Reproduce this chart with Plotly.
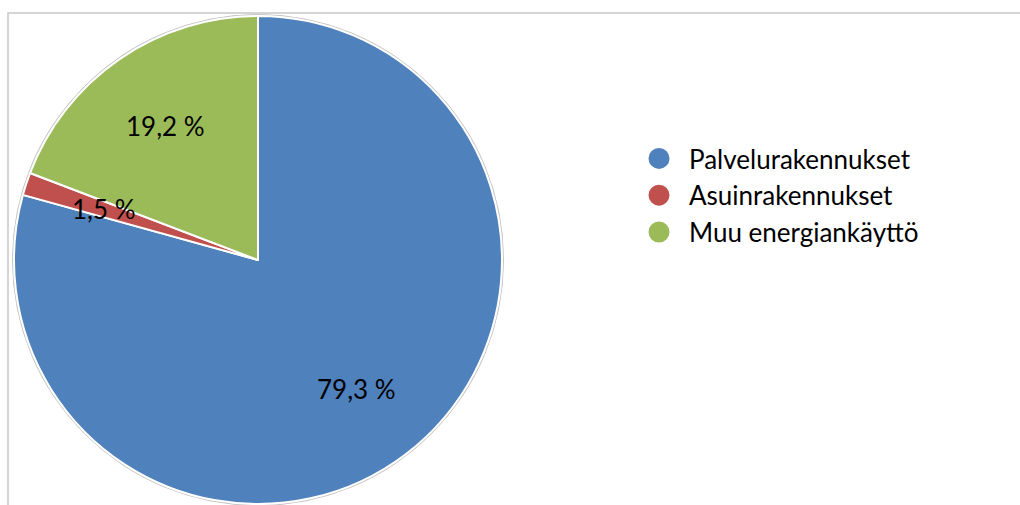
import math
import plotly.graph_objects as go

categories = ["Palvelurakennukset", "Asuinrakennukset", "Muu energiankäyttö"]
values = [79.3, 1.5, 19.2]
labels_text = ["79,3 %", "1,5 %", "19,2 %"]
colors = ["#4F81BD", "#C0504D", "#9BBB59"]

W, H = 1020, 505
R_PX = 244
CX_PX, CY_PX = 258, 260  # from top-left

dom_x = [(CX_PX - R_PX) / W, (CX_PX + R_PX) / W]
dom_y = [(H - CY_PX - R_PX) / H, (H - CY_PX + R_PX) / H]

fig = go.Figure()
fig.add_trace(go.Pie(
    labels=categories,
    values=values,
    sort=False,
    direction="clockwise",
    rotation=0,
    marker=dict(colors=colors, line=dict(color="white", width=2)),
    textinfo="none",
    hoverinfo="label+percent",
    showlegend=False,
    domain=dict(x=dom_x, y=dom_y),
))

# legend entries as circles
for name, col in zip(categories, colors):
    fig.add_trace(go.Scatter(
        x=[None], y=[None], mode="markers", name=name,
        marker=dict(symbol="circle", size=16, color=col,
                    line=dict(color=col, width=5)),
        legendgroup=name,
    ))

# data labels positioned along each slice's mid angle
total = sum(values)
cx = (dom_x[0] + dom_x[1]) / 2
cy = (dom_y[0] + dom_y[1]) / 2
frac = 0.665
cum = 0.0
annotations = []
for v, t in zip(values, labels_text):
    mid = (cum + v / 2) / total * 2 * math.pi
    cum += v
    ax = cx + R_PX * frac * math.sin(mid) / W
    ay = cy + R_PX * frac * math.cos(mid) / H
    annotations.append(dict(
        x=ax, y=ay, xref="paper", yref="paper", text=t, showarrow=False,
        font=dict(family="Lato", size=26, color="black"),
        xanchor="center", yanchor="middle",
    ))

shapes = [
    # chart frame
    dict(type="rect", xref="paper", yref="paper",
         x0=8 / W, x1=1.05, y0=-0.05, y1=(H - 13) / H,
         line=dict(color="#c8c8c8", width=1.5), fillcolor="rgba(0,0,0,0)",
         layer="below"),
    # subtle pie edge shadow
    dict(type="circle", xref="paper", yref="paper",
         x0=(CX_PX - R_PX - 1.5) / W, x1=(CX_PX + R_PX + 1.5) / W,
         y0=(H - CY_PX - R_PX - 1.5) / H, y1=(H - CY_PX + R_PX + 1.5) / H,
         line=dict(color="#c4c4c4", width=1), fillcolor="#d0d0d0",
         layer="below"),
]

fig.update_layout(
    width=W, height=H,
    margin=dict(l=0, r=0, t=0, b=0),
    paper_bgcolor="white", plot_bgcolor="white",
    xaxis=dict(visible=False, domain=[0.6, 1]),
    yaxis=dict(visible=False),
    annotations=annotations,
    shapes=shapes,
    legend=dict(
        x=629 / W, y=1 - 135 / H, xanchor="left", yanchor="top",
        font=dict(family="Lato", size=26, color="black"),
        itemsizing="trace", tracegroupgap=0, itemwidth=50,
        bgcolor="rgba(0,0,0,0)",
    ),
    showlegend=True,
)

fig.write_html("out.html", config={"displayModeBar": False},
               post_script="document.body.style.margin='0';")
